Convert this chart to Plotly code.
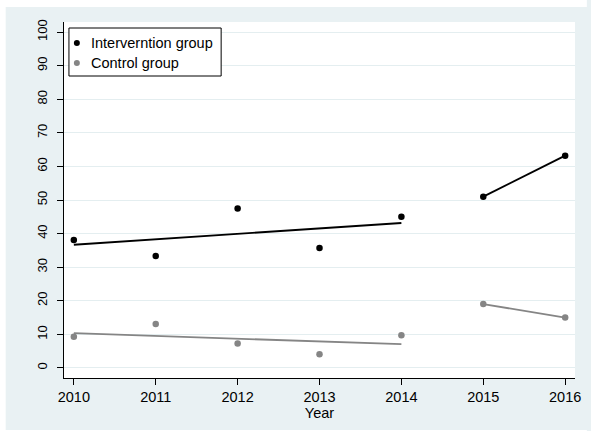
import numpy as np
import plotly.graph_objects as go

# Survey years and yearly values per group
years = [2010, 2011, 2012, 2013, 2014, 2015, 2016]
intervention = [38.1, 33.3, 47.5, 35.7, 45.0, 51.0, 63.2]
control = [9.3, 13.1, 7.3, 4.1, 9.7, 19.0, 15.0]
series_names = ["Interverntion group", "Control group"]

# Fit periods: linear trend 2010-2014, then 2015-2016
periods = [(2010, 2014), (2015, 2016)]

y_ticks = list(range(0, 101, 10))
x_label = "Year"

# Canvas / layout geometry (px)
W, H = 591, 431
L, R, T, B = 64, 10, 22, 53
BG = "#e9f1f3"
GRID = "#e4eef0"
FONT = "Liberation Sans, Arial, sans-serif"
colors = ["#000000", "#858585"]
line_widths = [1.9, 1.8]


def fx(px):
    return (px - L) / (W - L - R)


def fy(py):
    return (H - B - py) / (H - T - B)


fig = go.Figure()

for name, vals, col, lw in zip(series_names, [intervention, control], colors, line_widths):
    fig.add_trace(go.Scatter(
        x=years, y=vals, mode="markers", name=name,
        marker=dict(color=col, size=6.5), showlegend=False))
    yr = np.array(years, dtype=float)
    v = np.array(vals, dtype=float)
    for a, b in periods:
        m = (yr >= a) & (yr <= b)
        coef = np.polyfit(yr[m] - a, v[m], 1)
        xs = np.array([a, b], dtype=float)
        fig.add_trace(go.Scatter(
            x=xs, y=np.polyval(coef, xs - a), mode="lines",
            line=dict(color=col, width=lw), showlegend=False,
            hoverinfo="skip"))

shapes = []
# thin white frame around the graph region
shapes += [
    dict(type="rect", xref="paper", yref="paper", x0=fx(0), x1=fx(W + 2),
         y0=fy(7), y1=fy(-2), fillcolor="white", line_width=0),
    dict(type="rect", xref="paper", yref="paper", x0=fx(-2), x1=fx(5),
         y0=fy(H + 2), y1=fy(-2), fillcolor="white", line_width=0),
    dict(type="rect", xref="paper", yref="paper", x0=fx(0), x1=fx(W + 2),
         y0=fy(H + 2), y1=fy(430), fillcolor="white", line_width=0),
]
# legend box
shapes.append(dict(type="rect", xref="paper", yref="paper",
                   x0=fx(69), x1=fx(223), y0=fy(76), y1=fy(28),
                   fillcolor="white", line=dict(color="black", width=1),
                   layer="above"))
annotations = []
for i, (name, col) in enumerate(zip(series_names, colors)):
    cy = 43 + 20 * i
    shapes.append(dict(type="circle", xref="paper", yref="paper",
                       xsizemode="pixel", ysizemode="pixel",
                       xanchor=fx(77), yanchor=fy(cy),
                       x0=-3, x1=3, y0=-3, y1=3,
                       fillcolor=col, line_width=0, layer="above"))
    annotations.append(dict(text=name, xref="paper", yref="paper",
                            x=fx(89), y=fy(cy), xanchor="left",
                            yanchor="middle", showarrow=False,
                            font=dict(family=FONT, size=14.5, color="black")))

fig.update_layout(
    width=W, height=H,
    margin=dict(l=L, r=R, t=T, b=B, pad=0),
    paper_bgcolor=BG, plot_bgcolor="white",
    font=dict(family=FONT, color="black"),
    shapes=shapes, annotations=annotations,
    showlegend=False,
)

fig.update_xaxes(
    range=[2009.88, 2016.12], tickmode="array", tickvals=years,
    ticktext=[str(y) for y in years],
    showgrid=False, zeroline=False,
    showline=True, linecolor="black", linewidth=1,
    ticks="outside", ticklen=6, tickcolor="black", tickwidth=1,
    tickfont=dict(family=FONT, size=14.5, color="black"),
    title=dict(text=x_label, font=dict(family=FONT, size=14.5, color="black"),
               standoff=0),
)
fig.update_yaxes(
    range=[-3, 103], tickmode="array", tickvals=y_ticks,
    ticktext=[str(v) for v in y_ticks],
    showgrid=True, gridcolor=GRID, gridwidth=1, zeroline=False,
    showline=True, linecolor="black", linewidth=1,
    ticks="outside", ticklen=6, tickcolor="black", tickwidth=1,
    tickangle=-90, ticklabelstandoff=5,
    tickfont=dict(family=FONT, size=13, color="black"),
)

fig.write_html("out.html")
